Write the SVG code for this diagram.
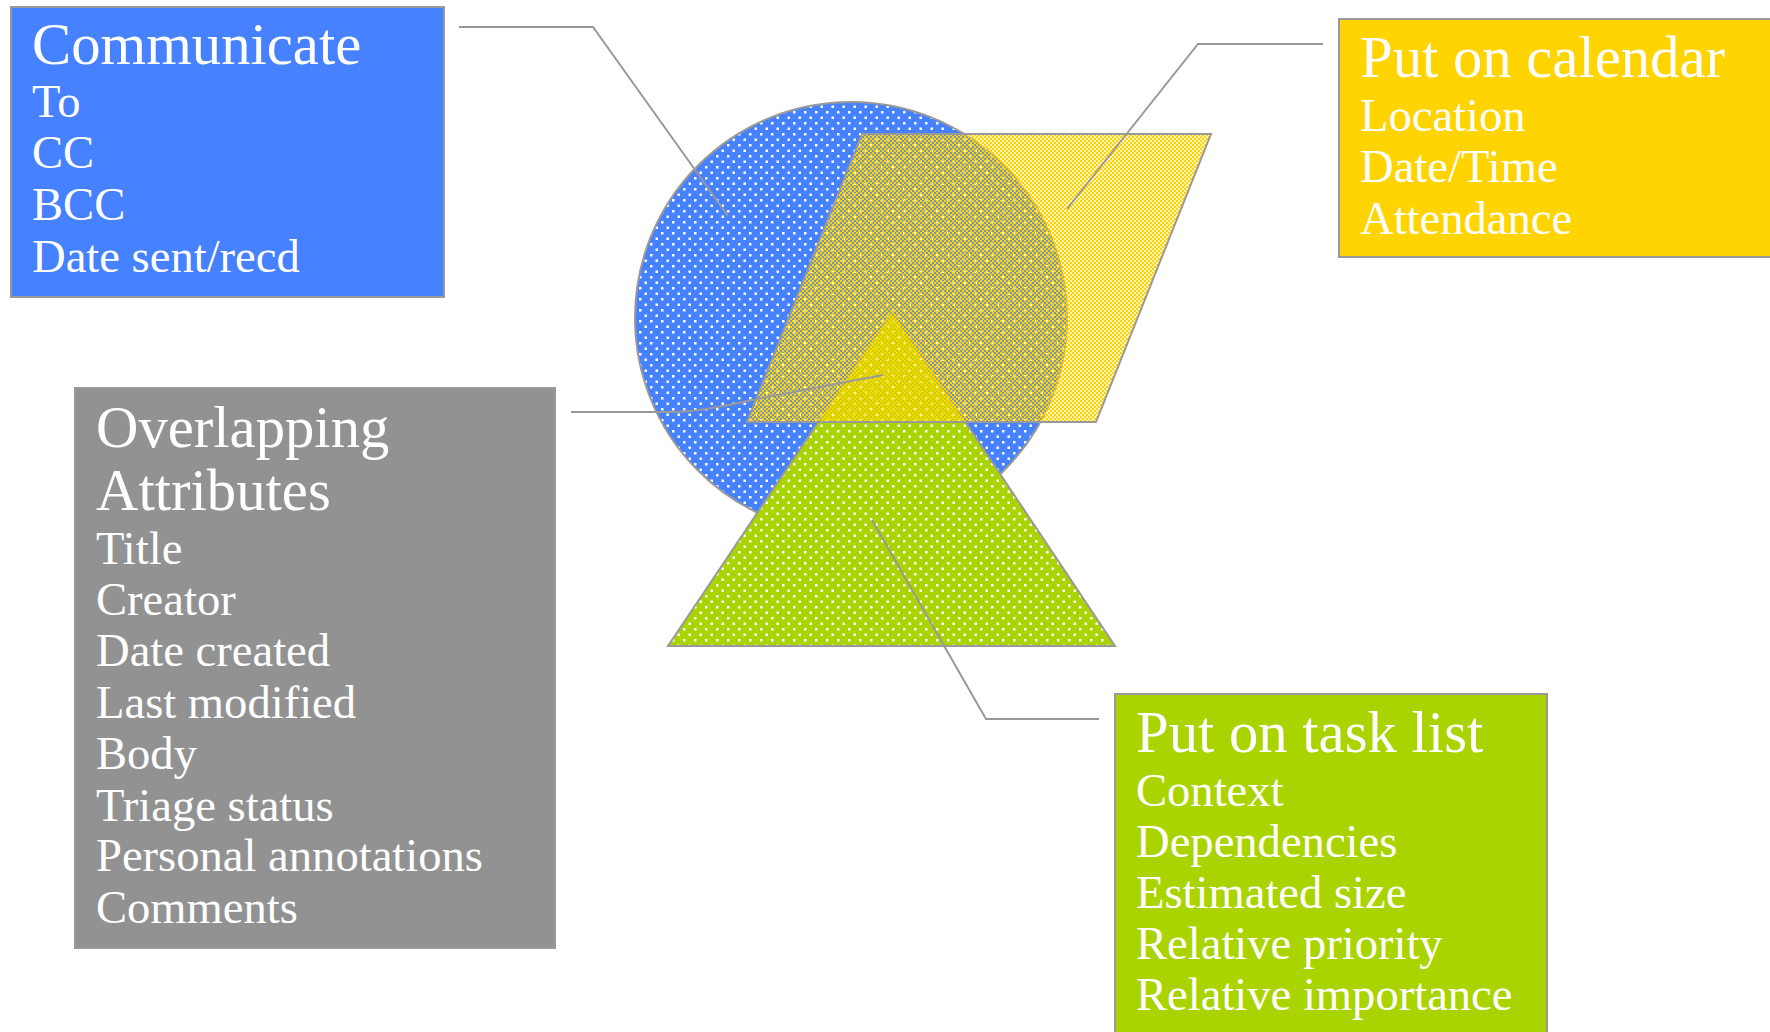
<svg xmlns="http://www.w3.org/2000/svg" width="1770" height="1032" viewBox="0 0 1770 1032">
<defs>
<pattern id="dotsBlue" width="11" height="11" patternUnits="userSpaceOnUse">
<rect width="11" height="11" fill="#4681FF"/>
<rect x="1" y="1" width="2.5" height="2.5" fill="#ffffff"/>
<rect x="6.5" y="6.5" width="2.5" height="2.5" fill="#ffffff"/>
</pattern>
<pattern id="dotsGreen" width="11" height="11" patternUnits="userSpaceOnUse">
<rect width="11" height="11" fill="#AAD400"/>
<rect x="1" y="1" width="2.5" height="2.5" fill="#ffffff"/>
<rect x="6.5" y="6.5" width="2.5" height="2.5" fill="#ffffff"/>
</pattern>
<pattern id="checkYellow" width="4" height="4" patternUnits="userSpaceOnUse">
<rect x="0" y="0" width="2" height="2" fill="#FFD400"/>
<rect x="2" y="2" width="2" height="2" fill="#FFD400"/>
<rect x="2" y="0" width="2" height="2" fill="#FFD400" opacity="0.25"/>
<rect x="0" y="2" width="2" height="2" fill="#FFD400" opacity="0.25"/>
</pattern>
</defs>
<style>
.box{stroke:#999999;stroke-width:2}
.shape{stroke:#999999;stroke-width:2}
.conn{fill:none;stroke:#999999;stroke-width:2}
.t{font-family:"Liberation Serif","Times New Roman",serif;fill:#ffffff}
.h{font-size:58.7px}
.i{font-size:46.6px}
</style>
<rect width="1770" height="1032" fill="#ffffff"/>
<g id="shapes">
<circle id="circle" class="shape" cx="851" cy="318" r="216" fill="url(#dotsBlue)"/>
<polygon id="triangle" class="shape" points="892,312 668,646 1115,646" fill="url(#dotsGreen)"/>
<polygon id="parallelogram" class="shape" points="862,134 1211,134 1096,422 747,422" fill="url(#checkYellow)"/>
</g>
<g id="connectors">
<polyline class="conn" points="459,27 593,27 728,216"/>
<polyline class="conn" points="1323,44 1198,44 1067,209"/>
<path class="conn" d="M571,412 L672,412 Q700,412 757,399 L883,375"/>
<polyline class="conn" points="1099,719 986,719 872,520"/>
</g>
<g id="communicate">
<rect class="box" x="11" y="7" width="433" height="290" fill="#4681FF"/>
<text class="t h" x="32" y="64">Communicate</text>
<text class="t i" x="32" y="117">To</text>
<text class="t i" x="32" y="168">CC</text>
<text class="t i" x="32" y="220">BCC</text>
<text class="t i" x="32" y="272">Date sent/recd</text>
</g>
<g id="calendar">
<rect class="box" x="1339" y="19" width="440" height="238" fill="#FFD400"/>
<text class="t h" x="1360" y="77">Put on calendar</text>
<text class="t i" x="1360" y="131">Location</text>
<text class="t i" x="1360" y="182">Date/Time</text>
<text class="t i" x="1360" y="234">Attendance</text>
</g>
<g id="overlapping">
<rect class="box" x="75" y="388" width="480" height="560" fill="#929292"/>
<text class="t h" x="96" y="447">Overlapping</text>
<text class="t h" x="96" y="510">Attributes</text>
<text class="t i" x="96" y="564">Title</text>
<text class="t i" x="96" y="615">Creator</text>
<text class="t i" x="96" y="666">Date created</text>
<text class="t i" x="96" y="718">Last modified</text>
<text class="t i" x="96" y="769">Body</text>
<text class="t i" x="96" y="821">Triage status</text>
<text class="t i" x="96" y="871">Personal annotations</text>
<text class="t i" x="96" y="923">Comments</text>
</g>
<g id="tasklist">
<rect class="box" x="1115" y="694" width="432" height="350" fill="#AAD400"/>
<text class="t h" x="1136" y="752">Put on task list</text>
<text class="t i" x="1136" y="806">Context</text>
<text class="t i" x="1136" y="857">Dependencies</text>
<text class="t i" x="1136" y="908">Estimated size</text>
<text class="t i" x="1136" y="959">Relative priority</text>
<text class="t i" x="1136" y="1010">Relative importance</text>
</g>
</svg>
